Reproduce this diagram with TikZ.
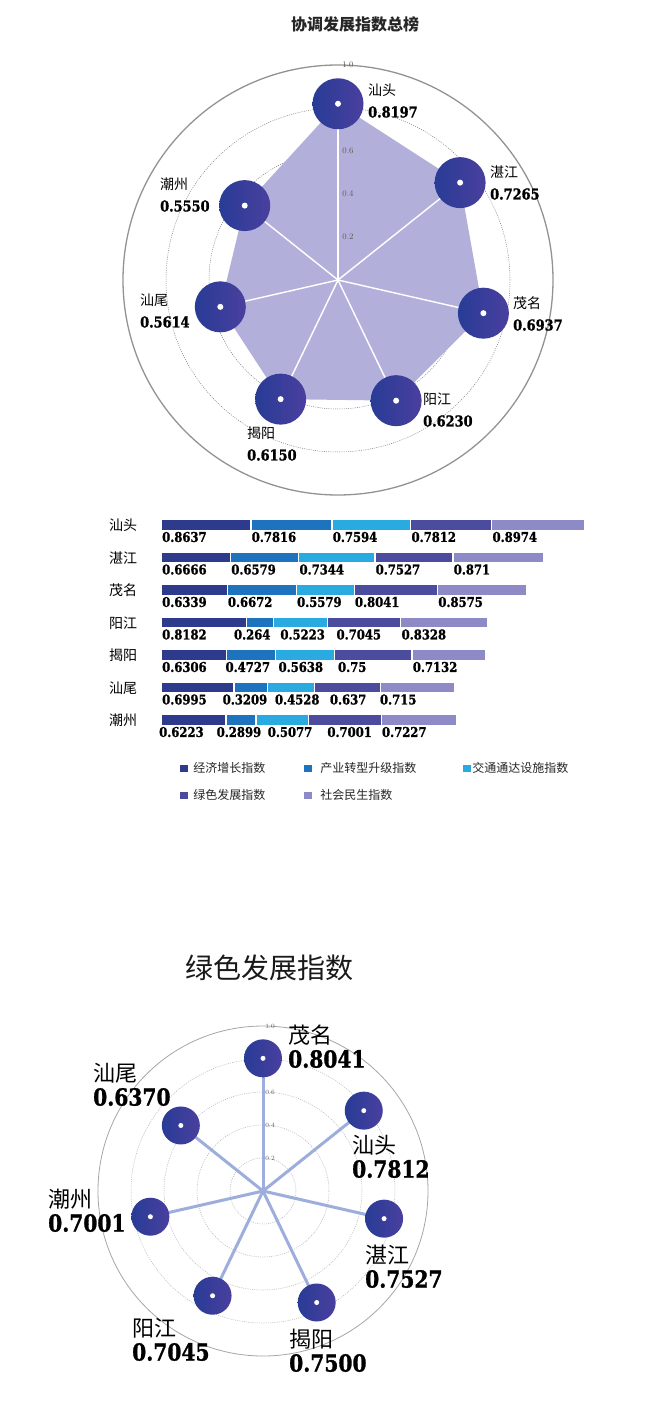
\documentclass[tikz,border=0pt]{standalone}
\usepackage{fontspec}
\newfontfamily\cjk{Noto Sans CJK SC}
\newfontfamily\numserif{DejaVu Serif}[FakeStretch=0.86, BoldFeatures={FakeBold=1.2}]
\usetikzlibrary{positioning}

\definecolor{c1}{HTML}{2E3A8C}
\definecolor{c2}{HTML}{1E73BE}
\definecolor{c3}{HTML}{29ABE2}
\definecolor{c4}{HTML}{4C4C9E}
\definecolor{c5}{HTML}{8E8AC6}
\definecolor{areac}{HTML}{B2B0DA}
\definecolor{dotl}{HTML}{283C96}
\definecolor{dotr}{HTML}{4A3F9E}
\definecolor{spokeblue}{HTML}{9DAEDC}

\tikzset{
  gridline/.style={gray, dash pattern=on 1pt off 1.2pt, line width=0.5pt},
  rim/.style={gray!85, line width=1.3pt},
  spoke/.style={white, line width=1.4pt},
  greenspoke/.style={spokeblue, line width=3pt},
  bigdot/.style={circle, minimum size=51pt, inner sep=0pt,
    left color=dotl, right color=dotr},
  smalldot/.style={bigdot, minimum size=38pt},
  hole/.style={circle, fill=white, minimum size=6pt, inner sep=0pt},
  tick/.style={font=\fontsize{8.5}{8.5}\selectfont, text=black!65, inner sep=0.5pt},
  cityname/.style={font=\cjk\fontsize{14}{14}\selectfont, anchor=west, inner sep=0pt},
  valnum/.style={font=\numserif\bfseries\fontsize{15}{15}\selectfont, anchor=west, inner sep=0pt},
  barnum/.style={font=\numserif\bfseries\fontsize{13.5}{13.5}\selectfont, anchor=west, inner sep=0pt},
  legbox/.style={minimum width=8pt, minimum height=7pt, inner sep=0pt},
  legtext/.style={font=\cjk\fontsize{12}{12}\selectfont, text=black!85, inner sep=0pt},
}

\begin{document}
\begin{tikzpicture}[x=1pt, y=-1pt]
  \fill[white] (0,0) rectangle (645,1420);
  \useasboundingbox (0,0) rectangle (645,1420);

  % overall index
  \node[font=\cjk\bfseries\fontsize{16}{16}\selectfont, text=black!85] (title1) at (355,24) {协调发展指数总榜};

  \begin{scope}[shift={(338,280)}, y=1pt]
    \coordinate (a-o) at (0,0);
    \foreach \r in {0.2,0.4,0.6,0.8}
      \draw[gridline] (a-o) circle (215*\r);
    \draw[rim] (a-o) circle (215);
    \foreach \c/\v [count=\k from 0] in {st/0.8197, zj/0.7265, mm/0.6937,
        yj/0.6230, jy/0.6150, sw/0.5614, cz/0.5550}
      \coordinate (a-\c) at ({90-\k*360/7}:{215*\v});
    \fill[areac] (a-st) -- (a-zj) -- (a-mm) -- (a-yj) -- (a-jy) -- (a-sw) -- (a-cz) -- cycle;
    \foreach \c in {st,zj,mm,yj,jy,sw,cz}
      \draw[spoke] (a-o) -- (a-\c);
    \foreach \t [count=\n] in {0.2,0.4,0.6,0.8,1.0}
      \node[tick] (a-tick\n) at (10,215*\t) {\t};
    \foreach \c in {st,zj,mm,yj,jy,sw,cz}{
      \node[bigdot] (a-\c-dot) at (a-\c) {};
      \node[hole] (a-\c-hole) at (a-\c) {};
    }
  \end{scope}

  \foreach \c/\nm/\v/\lx/\ly in {st/汕头/0.8197/368/90, zj/湛江/0.7265/490/172,
      mm/茂名/0.6937/513/303, yj/阳江/0.6230/423/399, jy/揭阳/0.6150/247/433,
      sw/汕尾/0.5614/140/300, cz/潮州/0.5550/160/184}{
    \node[cityname] (a-\c-name) at (\lx,\ly) {\nm};
    \node[valnum] (a-\c-val) at (\lx,\ly+22) {\v};
  }

  % stacked bars
  \foreach \city/\vals [count=\i from 0] in {
      汕头/{0.8637/0,0.7816/0,0.7594/0,0.7812/0,0.8974/0},
      湛江/{0.6666/0,0.6579/0,0.7344/0,0.7527/0,0.871/0},
      茂名/{0.6339/0,0.6672/0,0.5579/0,0.8041/0,0.8575/0},
      阳江/{0.8182/0,0.264/-13,0.5223/6,0.7045/8,0.8328/0},
      揭阳/{0.6306/0,0.4727/-2,0.5638/2,0.75/3,0.7132/0},
      汕尾/{0.6995/0,0.3209/-12,0.4528/7,0.637/15,0.715/-1},
      潮州/{0.6223/-3,0.2899/-10,0.5077/11,0.7001/18,0.7227/0}}{
    \pgfmathsetmacro\ytop{520+32.5*\i}
    \node[cityname] (bar\i-name) at (109,\ytop+5.5) {\city};
    \gdef\xs{162}
    \foreach \v/\dx [count=\k] in \vals {
      \pgfmathsetmacro\xe{\xs+103.7*\v}
      \fill[c\k] (\xs,\ytop) rectangle (\xe-1.2,\ytop+9.5);
      \node[barnum] (bar\i-\k) at (\xs+\dx,\ytop+17) {\v};
      \xdef\xs{\xe}
    }
  }

  % legend
  \node[legbox, fill=c1] (lg1) at (184,768) {};
  \node[legtext, right=5pt of lg1] (lgt1) {经济增长指数};
  \node[legbox, fill=c2] (lg2) at (308,768) {};
  \node[legtext, right=8pt of lg2] (lgt2) {产业转型升级指数};
  \node[legbox, fill=c3] (lg3) at (467,768) {};
  \node[legtext, right=1pt of lg3] (lgt3) {交通通达设施指数};
  \node[legbox, fill=c4] (lg4) at (184,795) {};
  \node[legtext, right=5pt of lg4] (lgt4) {绿色发展指数};
  \node[legbox, fill=c5] (lg5) at (308,795) {};
  \node[legtext, right=8pt of lg5] (lgt5) {社会民生指数};

  % green development
  \node[font=\cjk\fontsize{28}{28}\selectfont, text=black!90] (title2) at (269,968) {绿色发展指数};

  \begin{scope}[shift={(263,1191)}, y=1pt]
    \coordinate (b-o) at (0,0);
    \foreach \r in {0.2,0.4,0.6,0.8}
      \draw[gridline, gray!60] (b-o) circle (165*\r);
    \draw[rim, gray!70, line width=0.8pt] (b-o) circle (165);
    \foreach \c/\v [count=\k from 0] in {mm/0.8041, st/0.7812, zj/0.7527,
        jy/0.7500, yj/0.7045, cz/0.7001, sw/0.6370}
      \coordinate (b-\c) at ({90-\k*360/7}:{165*\v});
    \foreach \t [count=\n] in {0.2,0.4,0.6,0.8,1.0}
      \node[tick, font=\fontsize{6.5}{6.5}\selectfont] (b-tick\n) at (7,165*\t) {\t};
    \foreach \c in {mm,st,zj,jy,yj,cz,sw}
      \draw[greenspoke] (b-o) -- (b-\c);
    \foreach \c in {mm,st,zj,jy,yj,cz,sw}{
      \node[smalldot] (b-\c-dot) at (b-\c) {};
      \node[hole, minimum size=5pt] (b-\c-hole) at (b-\c) {};
    }
  \end{scope}

  \foreach \c/\nm/\v/\lx/\ly in {mm/茂名/0.8041/288/1035, sw/汕尾/0.6370/93/1073,
      st/汕头/0.7812/352/1145, cz/潮州/0.7001/48/1199, zj/湛江/0.7527/365/1255,
      yj/阳江/0.7045/132/1328, jy/揭阳/0.7500/289/1339}{
    \node[cityname, font=\cjk\fontsize{22}{22}\selectfont] (b-\c-name) at (\lx,\ly) {\nm};
    \node[valnum, font=\numserif\bfseries\fontsize{23.5}{23.5}\selectfont] (b-\c-val) at (\lx,\ly+24) {\v};
  }
\end{tikzpicture}
\end{document}
